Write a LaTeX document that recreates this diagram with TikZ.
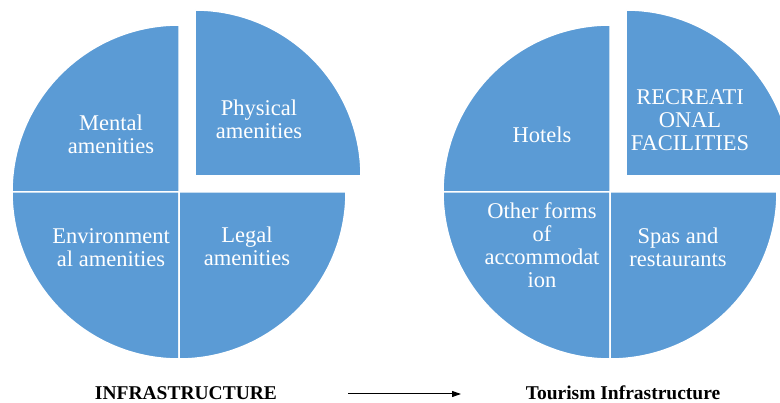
\documentclass[tikz,border=0pt]{standalone}
\usepackage{fontspec}
\setmainfont{Liberation Serif}
\usetikzlibrary{arrows.meta}
\definecolor{pieblue}{HTML}{5B9BD5}
\tikzset{
  wedge/.style={fill=pieblue, draw=white, line width=1.5pt},
  lbl/.style={text=white, align=center, inner sep=0pt, anchor=base, font=\fontsize{22.5}{23}\selectfont},
  captext/.style={text=black, inner sep=0pt, anchor=base, font=\fontsize{19.5}{21}\selectfont\bfseries},
  flow/.style={line width=1pt, -{Triangle[length=9pt, width=6pt]}}
}
\begin{document}
\begin{tikzpicture}[x=1pt, y=-1pt]
\useasboundingbox (0,0) rectangle (780,403);
% left pie
\fill[wedge] (179,192) -- ++(180:167) arc[start angle=180, end angle=270, radius=167] -- cycle;
\fill[wedge] (179,192) -- ++(90:167) arc[start angle=90, end angle=180, radius=167] -- cycle;
\fill[wedge] (179,192) -- ++(0:167) arc[start angle=0, end angle=90, radius=167] -- cycle;
\fill[wedge] (195,176) -- ++(270:166) arc[start angle=270, end angle=360, radius=166] -- cycle;
% right pie
\fill[wedge] (610,192) -- ++(180:167) arc[start angle=180, end angle=270, radius=167] -- cycle;
\fill[wedge] (610,192) -- ++(90:167) arc[start angle=90, end angle=180, radius=167] -- cycle;
\fill[wedge] (610,192) -- ++(0:167) arc[start angle=0, end angle=90, radius=167] -- cycle;
\fill[wedge] (626,176) -- ++(270:166) arc[start angle=270, end angle=360, radius=166] -- cycle;
% labels (anchored at the baseline of the last line)
\node[lbl] (mental) at (111,154) {Mental\\amenities};
\node[lbl] (physical) at (259,139) {Physical\\amenities};
\node[lbl] (environ) at (111,267) {Environment\\al amenities};
\node[lbl] (legal) at (247,266) {Legal\\amenities};
\node[lbl] (hotels) at (542,143) {Hotels};
\node[lbl] (recreat) at (690,151) {RECREATI\\ONAL\\FACILITIES};
\node[lbl] (other) at (542,288) {Other forms\\of\\accommodat\\ion};
\node[lbl] (spas) at (678,267) {Spas and\\restaurants};
% captions
\node[captext] (infra) at (186,400) {INFRASTRUCTURE};
\node[captext] (tourism) at (623,400) {Tourism Infrastructure};
\coordinate (a1) at (348,394);
\coordinate (a2) at (461,394);
\draw[flow] (a1) -- (a2);
\end{tikzpicture}
\end{document}
